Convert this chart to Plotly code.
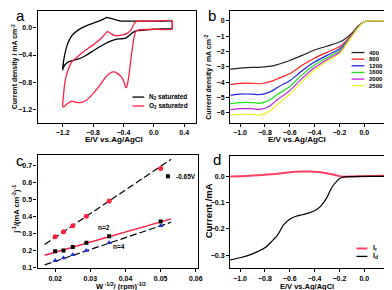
import plotly.graph_objects as go

W, H = 392, 290
FONT = "Liberation Sans, Arial, sans-serif"

# ---------------- Panel a: CV in N2 / O2 ----------------
a_n2_E = [0.24, 0.1, -0.1, -0.3, -0.42, -0.5, -0.58, -0.62, -0.66, -0.75, -0.85, -0.95, -1.05, -1.1, -1.14,
          -1.17, -1.19, -1.2, -1.19, -1.15, -1.1, -1.0, -0.9, -0.8, -0.7, -0.6, -0.5, -0.42, -0.37, -0.33,
          -0.28, -0.22, -0.1, 0.0, 0.1, 0.24, 0.24]
a_n2_j = [0.10, 0.10, 0.10, 0.10, 0.10, 0.12, 0.145, 0.155, 0.13, 0.09, 0.05, 0.0, -0.08, -0.15, -0.25,
          -0.38, -0.5, -0.62, -0.58, -0.52, -0.49, -0.46, -0.41, -0.34, -0.27, -0.21, -0.17, -0.16, -0.15, -0.12,
          -0.07, -0.04, -0.03, -0.02, -0.015, -0.01, 0.10]
a_o2_E = [0.24, 0.0, -0.2, -0.24, -0.27, -0.3, -0.33, -0.355, -0.37, -0.39, -0.43, -0.48, -0.53, -0.58, -0.65,
          -0.72, -0.8, -0.88, -0.95, -1.02, -1.08, -1.14, -1.19, -1.2, -1.19, -1.17, -1.13, -1.08, -1.0, -0.9,
          -0.8, -0.7, -0.65, -0.61, -0.57, -0.52, -0.47, -0.4, -0.35, -0.3, -0.26, -0.22, 0.0, 0.24, 0.24]
a_o2_j = [-0.02, -0.02, -0.03, -0.06, -0.2, -0.45, -0.72, -0.87, -0.88, -0.8, -0.72, -0.67, -0.65, -0.67, -0.75,
          -0.86, -0.97, -1.06, -1.1, -1.1, -1.08, -1.12, -1.17, -1.15, -1.0, -0.8, -0.62, -0.5, -0.42, -0.33,
          -0.25, -0.16, -0.1, -0.05, -0.08, -0.11, -0.115, -0.1, -0.08, -0.03, 0.06, 0.1, 0.1, 0.11, -0.02]
a_names = ["N<sub>2</sub> saturated", "O<sub>2</sub> saturated"]

# ---------------- Panel b: LSV at different rotation rates ----------------
b_E = [-1.08, -1.0, -0.9, -0.85, -0.8, -0.75, -0.7, -0.65, -0.6, -0.5, -0.4, -0.3, -0.2, -0.15, -0.1,
       -0.05, 0.0, 0.05, 0.1, 0.2]
b_rpm = ["400", "800", "1200", "1600", "2000", "2500"]
b_400 = [-3.15, -3.08, -3.03, -3.03, -3.0, -2.95, -2.85, -2.72, -2.58, -2.25, -1.9, -1.65, -1.38, -1.15, -0.8,
         -0.35, -0.05, 0.0, 0.0, 0.0]
b_800 = [-4.15, -4.08, -4.07, -4.1, -4.05, -3.95, -3.78, -3.62, -3.45, -2.9, -2.42, -2.05, -1.69, -1.35, -0.9,
         -0.4, -0.05, 0.0, 0.0, 0.0]
b_1200 = [-4.85, -4.78, -4.78, -4.82, -4.75, -4.6, -4.35, -4.12, -3.91, -3.25, -2.68, -2.25, -1.83, -1.45, -0.95,
          -0.42, -0.05, 0.0, 0.0, 0.0]
b_1600 = [-5.4, -5.33, -5.33, -5.38, -5.3, -5.1, -4.8, -4.55, -4.28, -3.52, -2.87, -2.4, -1.94, -1.5, -0.98,
          -0.43, -0.05, 0.0, 0.0, 0.0]
b_2000 = [-5.8, -5.73, -5.73, -5.78, -5.7, -5.48, -5.15, -4.85, -4.55, -3.75, -3.04, -2.52, -2.04, -1.55, -1.0,
          -0.44, -0.05, 0.0, 0.0, 0.0]
b_2500 = [-6.15, -6.1, -6.1, -6.15, -6.05, -5.82, -5.45, -5.12, -4.8, -3.95, -3.2, -2.63, -2.15, -1.6, -1.02,
          -0.45, -0.05, 0.0, 0.0, 0.0]
b_colors = ["#222222", "#ff2020", "#2020e0", "#20e020", "#c020e0", "#f0f020"]

# ---------------- Panel c: Koutecky-Levich ----------------
c_w = [0.02, 0.02236, 0.025, 0.02887, 0.03536, 0.05]
c_n2 = [0.28, 0.31, 0.345, 0.40, 0.49, 0.68]
c_exp = [0.195, 0.20, 0.22, 0.245, 0.283, 0.37]
c_n4 = [0.14, 0.155, 0.175, 0.20, 0.245, 0.345]
c_fit_w = [0.017, 0.053]
c_fit_n2 = [0.235, 0.735]
c_fit_exp = [0.172, 0.385]
c_fit_n4 = [0.115, 0.365]

# ---------------- Panel d: RRDE currents ----------------
d_E = [-1.08, -1.0, -0.9, -0.8, -0.75, -0.7, -0.65, -0.6, -0.55, -0.5, -0.45, -0.4, -0.35, -0.3, -0.27,
       -0.24, -0.22, -0.2, -0.17, -0.1, 0.0, 0.1, 0.2]
d_Id = [-0.318, -0.31, -0.295, -0.272, -0.25, -0.225, -0.185, -0.163, -0.152, -0.146, -0.14, -0.131, -0.113,
        -0.08, -0.05, -0.028, -0.018, -0.009, -0.003, -0.001, 0.0, 0.0, 0.0]
d_Ir = [0.0, 0.001, 0.003, 0.006, 0.008, 0.01, 0.013, 0.016, 0.018, 0.019, 0.019, 0.018, 0.016, 0.012, 0.009,
        0.006, 0.004, 0.001, -0.001, 0.0, 0.001, 0.002, 0.002]


def P(px, py):
    return px / W, 1 - py / H


fig = go.Figure()

# panel a
fig.add_trace(go.Scatter(x=a_n2_E, y=a_n2_j, mode="lines", line=dict(color="black", width=1.3,
                         shape="spline", smoothing=0.3), xaxis="x", yaxis="y", showlegend=False))
fig.add_trace(go.Scatter(x=a_o2_E, y=a_o2_j, mode="lines", line=dict(color="#ff2040", width=1.3,
                         shape="spline", smoothing=0.3), xaxis="x", yaxis="y", showlegend=False))

# panel b
for vals, col in zip([b_400, b_800, b_1200, b_1600, b_2000, b_2500], b_colors):
    fig.add_trace(go.Scatter(x=b_E, y=vals, mode="lines", line=dict(color=col, width=1.2, shape="spline",
                             smoothing=0.7), xaxis="x2", yaxis="y2", showlegend=False))

# panel c
dash = "7px,3px"
fig.add_trace(go.Scatter(x=c_fit_w, y=c_fit_n2, mode="lines", line=dict(color="black", width=1.2, dash=dash),
                         xaxis="x3", yaxis="y3", showlegend=False))
fig.add_trace(go.Scatter(x=c_fit_w, y=c_fit_n4, mode="lines", line=dict(color="black", width=1.2, dash=dash),
                         xaxis="x3", yaxis="y3", showlegend=False))
fig.add_trace(go.Scatter(x=c_fit_w, y=c_fit_exp, mode="lines", line=dict(color="#ff2040", width=1.5),
                         xaxis="x3", yaxis="y3", showlegend=False))
fig.add_trace(go.Scatter(x=c_w, y=c_n2, mode="markers", marker=dict(color="#ff2040", size=5, symbol="circle"),
                         xaxis="x3", yaxis="y3", showlegend=False))
fig.add_trace(go.Scatter(x=c_w, y=c_exp, mode="markers", marker=dict(color="black", size=4, symbol="square"),
                         xaxis="x3", yaxis="y3", showlegend=False))
fig.add_trace(go.Scatter(x=c_w, y=c_n4, mode="markers", marker=dict(color="#2030d0", size=5, symbol="triangle-up"),
                         xaxis="x3", yaxis="y3", showlegend=False))

# panel d
fig.add_trace(go.Scatter(x=d_E, y=d_Ir, mode="lines", line=dict(color="#ff4060", width=2, shape="spline",
                         smoothing=0.7), xaxis="x4", yaxis="y4", showlegend=False))
fig.add_trace(go.Scatter(x=d_E, y=d_Id, mode="lines", line=dict(color="black", width=1.2, shape="spline",
                         smoothing=0.7), xaxis="x4", yaxis="y4", showlegend=False))

tickfont = dict(family=FONT, size=7, color="black", weight="bold")
ax_common = dict(showline=True, linecolor="black", linewidth=1.3, mirror=True, showgrid=False, zeroline=False,
                 ticks="outside", ticklen=3, tickwidth=1, tickcolor="black", tickfont=tickfont)

dom_a_x = [30 / W, 190 / W]
dom_b_x = [225 / W, 386 / W]
dom_c_x = [30 / W, 192 / W]
dom_top_y = [1 - 116 / H, 1 - 3 / H]
dom_bot_y = [1 - 263 / H, 1 - 149 / H]

fig.update_layout(
    width=W, height=H, margin=dict(l=0, r=0, t=0, b=0), paper_bgcolor="white", plot_bgcolor="white",
    showlegend=False,
    xaxis=dict(domain=dom_a_x, anchor="y", range=[-1.53, 0.55], tickvals=[-1.2, -0.8, -0.4, 0.0, 0.4],
               tickformat=".1f", **ax_common),
    yaxis=dict(domain=dom_top_y, anchor="x", range=[-1.4, 0.25], tickvals=[0.0, -0.4, -0.8, -1.2],
               tickformat=".1f", **ax_common),
    xaxis2=dict(domain=dom_b_x, anchor="y2", range=[-1.08, 0.2], tickvals=[-1.0, -0.8, -0.6, -0.4, -0.2, 0.0, 0.2],
                tickformat=".1f", **ax_common),
    yaxis2=dict(domain=dom_top_y, anchor="x2", range=[-6.65, 0.65], tickvals=[0, -1, -2, -3, -4, -5, -6],
                **ax_common),
    xaxis3=dict(domain=dom_c_x, anchor="y3", range=[0.015, 0.0605], tickvals=[0.02, 0.03, 0.04, 0.05, 0.06],
                tickformat=".2f", **ax_common),
    yaxis3=dict(domain=dom_bot_y, anchor="x3", range=[0.095, 0.757], tickvals=[0.1, 0.2, 0.3, 0.4, 0.5, 0.6, 0.7],
                tickformat=".1f", **ax_common),
    xaxis4=dict(domain=dom_b_x, anchor="y4", range=[-1.08, 0.2], tickvals=[-1.0, -0.8, -0.6, -0.4, -0.2, 0.0, 0.2],
                tickformat=".1f", **ax_common),
    yaxis4=dict(domain=[1 - 263 / H, 1 - 150 / H], anchor="x4", range=[-0.35, 0.076],
                tickvals=[0.0, -0.1, -0.2, -0.3], tickformat=".1f", **ax_common),
)

ann = []
shapes = []


def text(px, py, s, size, bold=True, angle=0, xanchor="center", color="black"):
    x, y = P(px, py)
    ann.append(dict(x=x, y=y, xref="paper", yref="paper", text=s, showarrow=False, textangle=angle,
                    xanchor=xanchor, yanchor="middle",
                    font=dict(family=FONT, size=size, color=color, weight="bold" if bold else "normal")))


def seg(px0, px1, py, color, width):
    x0, y0 = P(px0, py)
    x1, _ = P(px1, py)
    shapes.append(dict(type="line", xref="paper", yref="paper", x0=x0, x1=x1, y0=y0, y1=y0,
                       line=dict(color=color, width=width)))


# panel letters
text(13, 8, "a", 15, bold=False)
text(207, 8, "b", 15, bold=False)
text(12, 154, "c", 15, bold=False)
text(212, 153, "d", 15, bold=False)

# axis titles
text(7, 59, "Current density / mA cm<sup>-2</sup>", 7, angle=-90)
text(107, 133, "E/V vs.Ag/AgCl", 8)
text(203, 70, "Current density / mA cm<sup>-2</sup>", 7, angle=-90)
text(293, 133, "E/V vs.Ag/AgCl", 8)
text(8, 203, "j<sup>-1</sup>/(mA cm<sup>-2</sup>)<sup>-1</sup>", 7.5, angle=-90)
text(114, 281, "W<sup> -1/2</sup>/ (rpm)<sup>-1/2</sup>", 7.5)
text(203, 205, "Current /mA", 9.5, angle=-90)
text(303, 281, "E/V vs.Ag/AgCl", 7.5)

# legend a
for i, (nm, col) in enumerate(zip(a_names, ["black", "#ff2040"])):
    py = 90 + 9 * i
    seg(126, 138, py, col, 1.3)
    text(141, py, nm, 6.5, xanchor="left")

# legend b
for i, (nm, col) in enumerate(zip(b_rpm, b_colors)):
    py = 45 + 6.7 * i
    seg(348, 361, py, col, 1.3)
    text(364, py, nm, 6, xanchor="left")

# legend c
x0, y0 = P(160, 168)
x1, y1 = P(164, 172)
shapes.append(dict(type="rect", xref="paper", yref="paper", x0=x0, x1=x1, y0=y1, y1=y0,
                   fillcolor="black", line=dict(width=0)))
text(168, 170, "-0.65V", 6.5, xanchor="left")

# legend d
seg(353, 364, 243, "#ff4060", 2)
text(368, 243, "I<sub>r</sub>", 7, xanchor="left")
seg(353, 364, 251, "black", 1.3)
text(368, 251, "I<sub>d</sub>", 7, xanchor="left")

# text labels in c
text(97, 222, "n=2", 6.5)
text(112, 241, "n=4", 6.5)

fig.update_layout(annotations=ann, shapes=shapes)
fig.write_html("out.html")
